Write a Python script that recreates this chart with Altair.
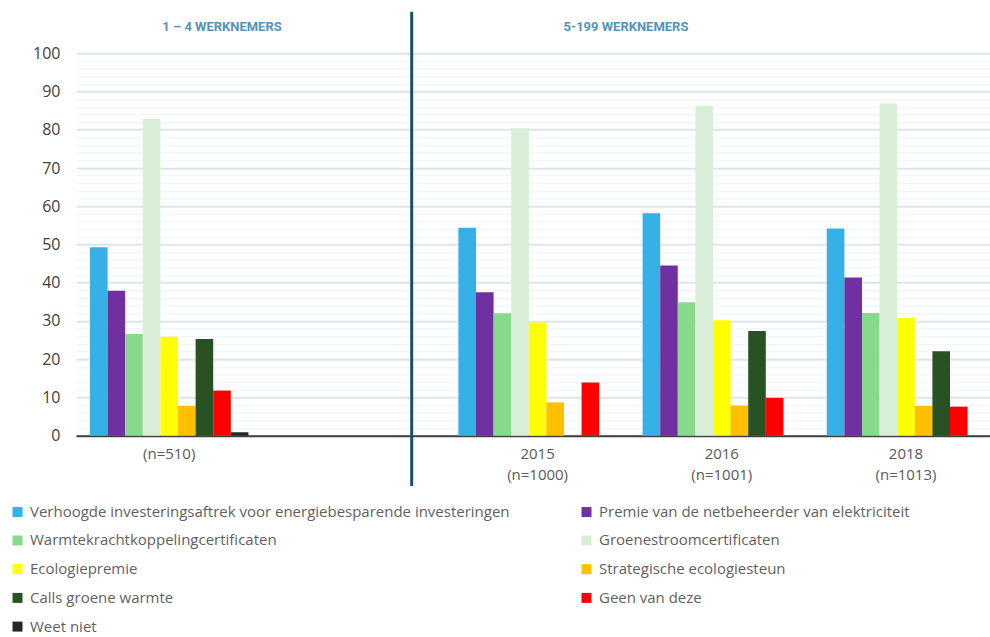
import altair as alt
import pandas as pd

# ---- data ----
categories = ["(n=510)", " ", "2015|(n=1000)", "2016|(n=1001)", "2018|(n=1013)"]
series = [
    "Verhoogde investeringsaftrek voor energiebesparende investeringen",
    "Premie van de netbeheerder van elektriciteit",
    "Warmtekrachtkoppelingcertificaten",
    "Groenestroomcertificaten",
    "Ecologiepremie",
    "Strategische ecologiesteun",
    "Calls groene warmte",
    "Geen van deze",
    "Weet niet",
]
colors = ["#35b1e8", "#7030a0", "#87da8b", "#d9eed7", "#ffff00",
          "#ffc000", "#285224", "#ff0000", "#262626"]

v_n510 = [49.3, 37.9, 26.6, 82.8, 25.9, 7.8, 25.3, 11.8, 0.9]
v_2015 = [54.4, 37.5, 32.0, 80.4, 29.6, 8.7, None, 13.9, None]
v_2016 = [58.2, 44.5, 34.9, 86.2, 30.2, 7.9, 27.4, 9.9, None]
v_2018 = [54.2, 41.4, 32.1, 86.9, 30.8, 7.8, 22.1, 7.6, None]

panel_titles = ["1 – 4 WERKNEMERS", "5-199 WERKNEMERS"]
y_ticks = list(range(0, 101, 2))

rows = []
for cat, vals in zip([categories[0], categories[2], categories[3], categories[4]],
                     [v_n510, v_2015, v_2016, v_2018]):
    for s, v in zip(series, vals):
        if v is not None:
            rows.append({"category": cat, "series": s, "value": v})
df = pd.DataFrame(rows)

W = 914
H = 382.4

bars = alt.Chart(df).mark_bar().encode(
    x=alt.X(
        "category:N",
        sort=categories,
        scale=alt.Scale(domain=categories, paddingInner=0.14, paddingOuter=0.051,
                        align=0.745, round=False),
        axis=alt.Axis(
            title=None, labelAngle=0, ticks=False, domain=True,
            domainColor="#404040", domainWidth=2,
            labelExpr="split(datum.label, '|')",
            labelFont="Open Sans", labelFontSize=15, labelColor="#595959",
            labelPadding=11, labelLineHeight=21,
        ),
    ),
    xOffset=alt.XOffset("series:N", sort=series,
                        scale=alt.Scale(domain=series, paddingInner=0, paddingOuter=0)),
    y=alt.Y(
        "value:Q",
        scale=alt.Scale(domain=[0, 100], nice=False),
        axis=alt.Axis(
            title=None, values=y_ticks,
            labelExpr="datum.value % 10 === 0 ? datum.label : ''",
            domain=False, ticks=False, labelPadding=16,
            labelFont="Open Sans", labelFontSize=16, labelColor="#404040",
            gridColor={"condition": {"test": "datum.value % 10 === 0", "value": "#dce5ec"},
                       "value": "#eef2f5"},
            gridWidth={"condition": {"test": "datum.value % 10 === 0", "value": 2},
                       "value": 1},
        ),
    ),
    color=alt.Color(
        "series:N", sort=series,
        scale=alt.Scale(domain=series, range=colors),
        legend=alt.Legend(
            title=None, orient="none", legendX=-66, legendY=451, columns=2,
            direction="horizontal",
            symbolType="square", symbolSize=100, symbolStrokeWidth=0,
            labelFont="Open Sans", labelFontSize=15, labelColor="#5f5f5f",
            labelLimit=700, rowPadding=12.7, columnPadding=69, labelOffset=5,
            padding=0,
        ),
    ),
)

divider = alt.Chart(pd.DataFrame({"d": [0]})).mark_rule(
    color="#1b4f68", strokeWidth=3
).encode(x=alt.value(335.7), y=alt.value(-41.6), y2=alt.value(432.7))

title_left = alt.Chart(pd.DataFrame({"t": [panel_titles[0]]})).mark_text(
    font="Roboto", fontSize=13, fontWeight="bold", color="#5393ba",
    align="center", baseline="middle"
).encode(x=alt.value(146), y=alt.value(-26), text="t:N")

title_right = alt.Chart(pd.DataFrame({"t": [panel_titles[1]]})).mark_text(
    font="Roboto", fontSize=13, fontWeight="bold", color="#5393ba",
    align="center", baseline="middle"
).encode(x=alt.value(550), y=alt.value(-26), text="t:N")

chart = alt.layer(bars, divider, title_left, title_right).properties(
    width=W, height=H,
    autosize=alt.AutoSizeParams(type="none"),
    padding={"left": 76, "top": 53.3, "right": 0, "bottom": 200},
    background="white",
).configure_view(stroke=None)

chart.save("out.html", embed_options={"renderer": "svg", "actions": False})
